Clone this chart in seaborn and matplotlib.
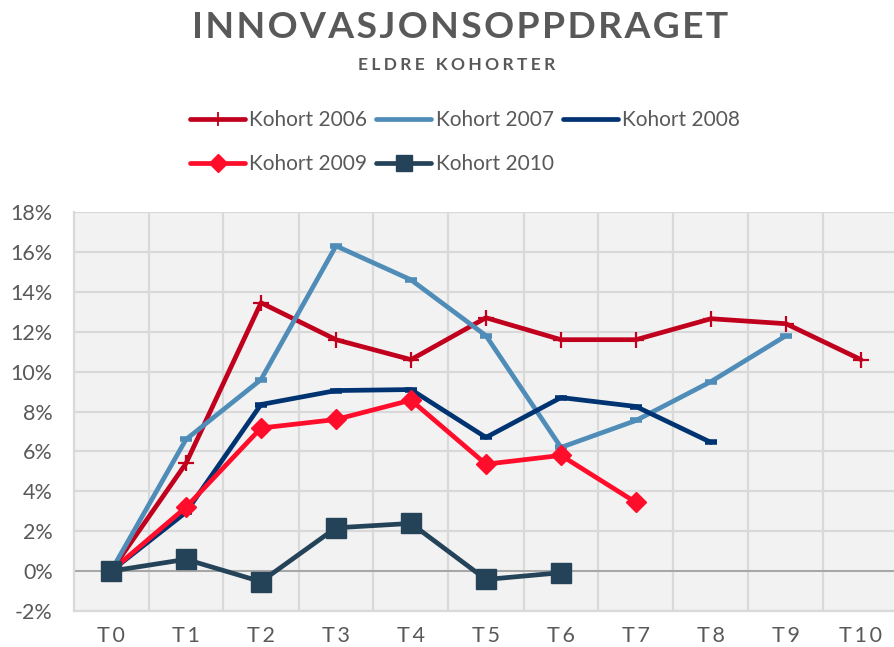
import numpy as np
import matplotlib
matplotlib.use("Agg")
import matplotlib.pyplot as plt
from matplotlib.lines import Line2D
import seaborn as sns
from matplotlib.ticker import FuncFormatter

# values (share, %)
periods = ["T0", "T1", "T2", "T3", "T4", "T5", "T6", "T7", "T8", "T9", "T10"]
kohort_2006 = [0.0, 5.4, 13.45, 11.6, 10.6, 12.7, 11.6, 11.6, 12.65, 12.4, 10.6]
kohort_2007 = [0.0, 6.6, 9.6, 16.3, 14.6, 11.8, 6.2, 7.55, 9.5, 11.8]
kohort_2008 = [0.0, 2.95, 8.35, 9.05, 9.1, 6.7, 8.7, 8.25, 6.45]
kohort_2009 = [0.0, 3.2, 7.17, 7.6, 8.57, 5.36, 5.8, 3.44]
kohort_2010 = [0.0, 0.59, -0.53, 2.17, 2.39, -0.42, -0.08]

labels = ["Kohort 2006", "Kohort 2007", "Kohort 2008", "Kohort 2009", "Kohort 2010"]
series = [kohort_2006, kohort_2007, kohort_2008, kohort_2009, kohort_2010]
colors = ["#C0001C", "#4F8DB8", "#003372", "#FF0D2A", "#254358"]
markers = ["+", "_", "_", "D", "s"]
msizes = [12, 9, 9, 10, 14]
mews = [1.6, 4, 4, 1, 1]
# legend samples (Excel shows the dash markers as plain lines)
leg_markers = ["+", None, None, "D", "s"]
leg_msizes = [10, 0, 0, 9, 11]

TXT = "#595959"
HAIR = "\u200a"


def spaced(s, n=1):
    return (HAIR * n).join(s)


sns.set_theme(style="white")
plt.rcParams["font.family"] = ["Lato", "DejaVu Sans"]

fig = plt.figure(figsize=(8.94, 6.47), dpi=100)
ax = fig.add_axes([73.5 / 894, 36 / 647, 825 / 894, 399 / 647])
ax.set_facecolor("#F2F2F2")

for lab, vals, c, m, ms, mew in zip(labels, series, colors, markers, msizes, mews):
    x = np.arange(len(vals))
    sns.lineplot(x=x, y=vals, ax=ax, color=c, lw=3.4, marker=m, markersize=ms,
                 markeredgewidth=mew, markeredgecolor=c, markerfacecolor=c,
                 legend=False, zorder=3)

ax.set_xlim(-0.5, 10.5)
ax.set_ylim(-2, 18)
ax.set_yticks(np.arange(-2, 19, 2))
ax.yaxis.set_major_formatter(FuncFormatter(lambda v, p: f"{v:.0f}%"))
ax.set_xticks(range(len(periods)))
ax.set_xticklabels([spaced(p, 2) for p in periods])
ax.set_xticks(np.arange(0.5, 10.5, 1), minor=True)

ax.grid(axis="y", which="major", color="#D9D9D9", lw=1.6, zorder=0)
ax.grid(axis="x", which="minor", color="#D9D9D9", lw=1.6, zorder=0)
ax.grid(axis="x", which="major", visible=False)
ax.axhline(0, color="#A6A6A6", lw=1.4, zorder=1)
ax.tick_params(axis="both", which="both", length=0, labelsize=15.5, colors=TXT)
ax.tick_params(axis="y", pad=15)
ax.tick_params(axis="x", pad=11)
for side in ["top", "right"]:
    ax.spines[side].set_visible(False)
for side in ["left", "bottom"]:
    ax.spines[side].set_color("#D9D9D9")
    ax.spines[side].set_linewidth(1.6)
ax.set_xlabel("")
ax.set_ylabel("")

handles = [Line2D([], [], color=c, lw=3.4, marker=m, markersize=ms,
                  markeredgewidth=1.3 if m == "+" else 1, markeredgecolor=c, markerfacecolor=c)
           for c, m, ms in zip(colors, leg_markers, leg_msizes)]
order = [0, 3, 1, 4, 2]
fig.legend([handles[i] for i in order], [labels[i] for i in order], ncol=3, frameon=False,
           loc="upper left", bbox_to_anchor=(190 / 894, 1 - 110 / 647),
           fontsize=15, labelcolor=TXT, handlelength=2.64, handletextpad=0.2,
           columnspacing=0.44, labelspacing=1.16, borderaxespad=0, borderpad=0)

fig.text(460 / 894, 1 - 27 / 647, spaced("INNOVASJONSOPPDRAGET", 1), ha="center", va="center",
         fontsize=26.8, fontweight="bold", color=TXT)
fig.text(457 / 894, 1 - 65 / 647, spaced("ELDRE KOHORTER", 3), ha="center", va="center",
         fontsize=12.5, fontweight="bold", color=TXT)

fig.savefig("out.png", dpi=100)
